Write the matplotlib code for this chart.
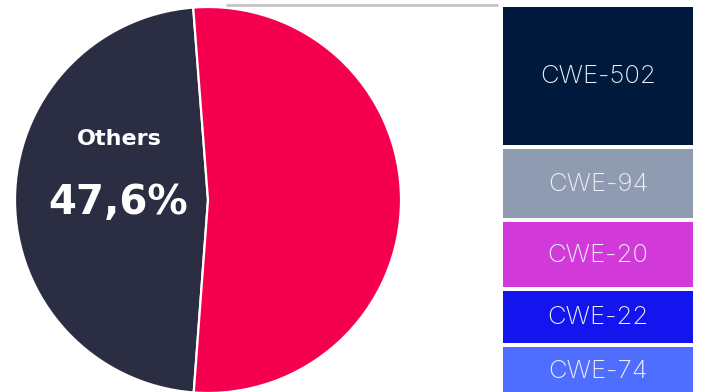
import numpy as np
import matplotlib
matplotlib.use("Agg")
import matplotlib.pyplot as plt

# pie: share of the "Others" group vs the top CWEs
pie_labels = ["Others", "Top CWEs"]
pie_values = [47.6, 52.4]
pie_colors = ["#2b2d42", "#f5004f"]

# breakdown of the top slice
cwe_names = ["CWE-502", "CWE-94", "CWE-20", "CWE-22", "CWE-74"]
cwe_values = [19.5, 9.8, 9.2, 7.4, 6.5]
cwe_colors = ["#001a3d", "#8e9bb0", "#d13ad8", "#1414ee", "#4f6eff"]

W, H = 704, 392
fig = plt.figure(figsize=(W / 100, H / 100), dpi=100)
fig.patch.set_facecolor("white")

# main axes in pixel units (y up)
ax = fig.add_axes([0, 0, 1, 1])

cx, cy, r = 208, H - 200, 193
ax.pie(pie_values, colors=pie_colors, startangle=94.4, counterclock=True,
       center=(cx, cy), radius=r, frame=True,
       wedgeprops=dict(edgecolor="white", linewidth=1.6))
ax.set_xlim(0, W)
ax.set_ylim(0, H)
ax.set_aspect("equal")
ax.axis("off")

ax.text(119, H - 139, pie_labels[0], ha="center", va="center", color="white",
        fontsize=16, fontweight="bold", family=["DejaVu Sans"])
ax.text(118, H - 203, f"{pie_values[0]:.1f}%".replace(".", ","), ha="center",
        va="center", color="white", fontsize=29, fontweight="bold",
        family=["DejaVu Sans"])

# connector from the pie top to the breakdown column
ax.plot([226, 498], [H - 5, H - 5], color="#c4c4c4", lw=2, solid_capstyle="butt")

# stacked breakdown boxes
gap_px = 4
col_top, col_bottom = 7, 393
avail = (col_bottom - col_top) - gap_px * (len(cwe_values) - 1)
scale = avail / sum(cwe_values)
bx = fig.add_axes([503 / W, (H - col_bottom) / H, 190 / W, (col_bottom - col_top) / H])
bx.set_xlim(0, 1)
bx.set_ylim(col_bottom - col_top, 0)
bx.axis("off")

top = 0.0
for name, val, col in zip(cwe_names, cwe_values, cwe_colors):
    h = val * scale
    bx.bar(0.5, h, width=1, bottom=top, color=col, edgecolor="none")
    bx.text(0.5, top + h / 2 + 1, name, ha="center", va="center", color="#eef0f6",
            fontsize=18.5, fontweight="light", family=["Inter", "DejaVu Sans"])
    top += h + gap_px

fig.savefig("out.png", dpi=100, facecolor="white")
